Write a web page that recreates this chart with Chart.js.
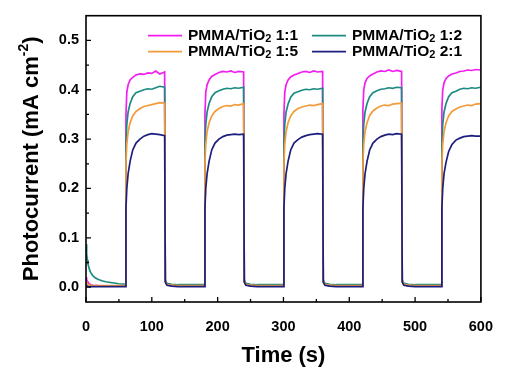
<!DOCTYPE html>
<html>
<head>
<meta charset="utf-8">
<script src="https://cdn.jsdelivr.net/npm/chart.js@4/dist/chart.umd.min.js"></script>
<style>
  html, body { margin: 0; padding: 0; background: #fff; }
  #wrap { width: 509px; height: 374px; }
</style>
</head>
<body>
<div id="wrap"><canvas id="photo-chart" width="509" height="374"></canvas></div>
<script>
// --- Data ---
const timeSec = [
    0, 1, 2, 3, 5, 7, 10, 14, 18, 24, 30, 40, 50,
    60, 60.7, 62, 64, 67, 71, 76, 82, 88, 94, 100, 106, 112, 119.5, 120.5, 123, 130, 140, 150, 160, 170,
    180, 180.7, 182, 184, 187, 191, 196, 202, 208, 214, 220, 226, 232, 239.5, 240.5, 243, 250, 260, 270, 280, 290,
    300, 300.7, 302, 304, 307, 311, 316, 322, 328, 334, 340, 346, 352, 359.5, 360.5, 363, 370, 380, 390, 400, 410,
    420, 420.7, 422, 424, 427, 431, 436, 442, 448, 454, 460, 466, 472, 479.5, 480.5, 483, 490, 500, 510, 520, 530,
    540, 540.7, 542, 544, 547, 551, 556, 562, 568, 574, 580, 586, 592, 599.5, 600
];

const pmma11 = [
    0.020, 0.015, 0.012, 0.010, 0.007, 0.005, 0.004, 0.003, 0.003, 0.002, 0.002, 0.002, 0.002,
    0.002, 0.35, 0.395, 0.41, 0.42, 0.425, 0.43, 0.432, 0.431, 0.434, 0.433, 0.438, 0.432, 0.436,
    0.012, 0.005, 0.003, 0.002, 0.002, 0.002, 0.002,
    0.002, 0.35, 0.395, 0.41, 0.42, 0.427, 0.431, 0.435, 0.437, 0.436, 0.438, 0.435, 0.437, 0.436,
    0.012, 0.005, 0.003, 0.002, 0.002, 0.002, 0.002,
    0.002, 0.35, 0.395, 0.41, 0.42, 0.426, 0.43, 0.433, 0.436, 0.437, 0.435, 0.438, 0.436, 0.437,
    0.012, 0.005, 0.003, 0.002, 0.002, 0.002, 0.002,
    0.002, 0.36, 0.40, 0.414, 0.423, 0.428, 0.432, 0.436, 0.438, 0.437, 0.440, 0.437, 0.439, 0.437,
    0.012, 0.005, 0.003, 0.002, 0.002, 0.002, 0.002,
    0.002, 0.36, 0.40, 0.414, 0.423, 0.428, 0.432, 0.434, 0.437, 0.438, 0.440, 0.439, 0.441, 0.440, 0.440
];

const pmma12 = [
    0.087, 0.068, 0.055, 0.047, 0.037, 0.030, 0.024, 0.019, 0.016, 0.013, 0.011, 0.009, 0.007,
    0.006, 0.29, 0.33, 0.355, 0.372, 0.386, 0.394, 0.397, 0.400, 0.402, 0.401, 0.404, 0.407, 0.405,
    0.015, 0.008, 0.006, 0.005, 0.005, 0.005, 0.005,
    0.005, 0.29, 0.33, 0.355, 0.372, 0.386, 0.394, 0.398, 0.401, 0.403, 0.402, 0.404, 0.403, 0.405,
    0.015, 0.008, 0.006, 0.005, 0.005, 0.005, 0.005,
    0.005, 0.29, 0.33, 0.355, 0.371, 0.385, 0.393, 0.396, 0.399, 0.401, 0.400, 0.402, 0.401, 0.403,
    0.015, 0.008, 0.006, 0.005, 0.005, 0.005, 0.005,
    0.005, 0.29, 0.33, 0.355, 0.372, 0.386, 0.394, 0.398, 0.401, 0.402, 0.404, 0.403, 0.405, 0.404,
    0.015, 0.008, 0.006, 0.005, 0.005, 0.005, 0.005,
    0.005, 0.29, 0.33, 0.355, 0.372, 0.386, 0.394, 0.397, 0.401, 0.403, 0.402, 0.404, 0.403, 0.405, 0.405
];

const pmma15 = [
    0.012, 0.009, 0.007, 0.006, 0.005, 0.004, 0.003, 0.003, 0.003, 0.003, 0.003, 0.003, 0.003,
    0.003, 0.25, 0.29, 0.315, 0.333, 0.347, 0.356, 0.362, 0.366, 0.368, 0.370, 0.372, 0.374, 0.373,
    0.012, 0.006, 0.004, 0.003, 0.003, 0.003, 0.003,
    0.003, 0.25, 0.29, 0.315, 0.333, 0.347, 0.356, 0.362, 0.366, 0.368, 0.367, 0.370, 0.369, 0.372,
    0.012, 0.006, 0.004, 0.003, 0.003, 0.003, 0.003,
    0.003, 0.25, 0.29, 0.315, 0.333, 0.347, 0.356, 0.362, 0.365, 0.367, 0.369, 0.368, 0.370, 0.372,
    0.012, 0.006, 0.004, 0.003, 0.003, 0.003, 0.003,
    0.003, 0.25, 0.29, 0.315, 0.333, 0.348, 0.357, 0.363, 0.367, 0.369, 0.368, 0.371, 0.372, 0.373,
    0.012, 0.006, 0.004, 0.003, 0.003, 0.003, 0.003,
    0.003, 0.25, 0.29, 0.315, 0.333, 0.347, 0.356, 0.361, 0.365, 0.367, 0.369, 0.368, 0.371, 0.372, 0.372
];

const pmma21 = [
    0.004, 0.003, 0.002, 0.002, 0.001, 0.001, 0.001, 0.001, 0.001, 0.001, 0.001, 0.001, 0.001,
    0.001, 0.16, 0.20, 0.23, 0.255, 0.278, 0.292, 0.300, 0.306, 0.309, 0.311, 0.310, 0.309, 0.307,
    0.010, 0.004, 0.002, 0.001, 0.001, 0.001, 0.001,
    0.001, 0.16, 0.20, 0.23, 0.255, 0.278, 0.292, 0.300, 0.305, 0.308, 0.309, 0.310, 0.309, 0.310,
    0.010, 0.004, 0.002, 0.001, 0.001, 0.001, 0.001,
    0.001, 0.16, 0.20, 0.23, 0.255, 0.278, 0.292, 0.299, 0.304, 0.307, 0.309, 0.310, 0.311, 0.310,
    0.010, 0.004, 0.002, 0.001, 0.001, 0.001, 0.001,
    0.001, 0.16, 0.20, 0.23, 0.255, 0.278, 0.292, 0.300, 0.305, 0.308, 0.310, 0.309, 0.311, 0.310,
    0.010, 0.004, 0.002, 0.001, 0.001, 0.001, 0.001,
    0.001, 0.16, 0.20, 0.23, 0.253, 0.275, 0.289, 0.298, 0.302, 0.305, 0.306, 0.307, 0.306, 0.306, 0.306
];

const seriesNames = ['PMMA/TiO|2| 1:1', 'PMMA/TiO|2| 1:2', 'PMMA/TiO|2| 1:5', 'PMMA/TiO|2| 2:1'];
const seriesColors = ['#f21ef0', '#1c8a80', '#f29b3c', '#1e1e7e'];

const xTicks = [0, 100, 200, 300, 400, 500, 600];
const xMinorTicks = [50, 150, 250, 350, 450, 550];
const yTicks = [0.0, 0.1, 0.2, 0.3, 0.4, 0.5];
const yMinorTicks = [0.05, 0.15, 0.25, 0.35, 0.45];

const xTitle = 'Time (s)';
const yTitle = 'Photocurrent (mA cm';
const yTitleSup = '-2';

const FONT = '"Liberation Sans", Arial, sans-serif';

// --- Plugins ---
// inward tick marks, frame and axis titles
const framePlugin = {
    id: 'frame',
    afterDatasetsDraw(chart) {
        const { ctx, chartArea: a, scales } = chart;
        const xs = scales.x, ys = scales.y;
        ctx.save();
        ctx.strokeStyle = '#000';
        ctx.lineWidth = 1.6;
        ctx.strokeRect(a.left, a.top, a.right - a.left, a.bottom - a.top);
        ctx.lineWidth = 1.3;
        ctx.beginPath();
        xTicks.forEach(v => { const p = xs.getPixelForValue(v); ctx.moveTo(p, a.bottom); ctx.lineTo(p, a.bottom - 5); });
        xMinorTicks.forEach(v => { const p = xs.getPixelForValue(v); ctx.moveTo(p, a.bottom); ctx.lineTo(p, a.bottom - 3); });
        yTicks.forEach(v => { const p = ys.getPixelForValue(v); ctx.moveTo(a.left, p); ctx.lineTo(a.left + 5, p); });
        yMinorTicks.forEach(v => { const p = ys.getPixelForValue(v); ctx.moveTo(a.left, p); ctx.lineTo(a.left + 3, p); });
        ctx.stroke();

        // axis titles
        ctx.fillStyle = '#000';
        ctx.font = 'bold 22px ' + FONT;
        ctx.textAlign = 'center';
        ctx.textBaseline = 'middle';
        ctx.fillText(xTitle, (a.left + a.right) / 2, 356);

        ctx.translate(32, (a.top + a.bottom) / 2);
        ctx.rotate(-Math.PI / 2);
        const wMain = ctx.measureText(yTitle).width;
        ctx.font = 'bold 14px ' + FONT;
        const wSup = ctx.measureText(yTitleSup).width;
        ctx.font = 'bold 22px ' + FONT;
        const wClose = ctx.measureText(')').width;
        const total = wMain + wSup + wClose;
        let x0 = -total / 2;
        ctx.textAlign = 'left';
        ctx.fillText(yTitle, x0, 0);
        ctx.font = 'bold 14px ' + FONT;
        ctx.fillText(yTitleSup, x0 + wMain, -8);
        ctx.font = 'bold 22px ' + FONT;
        ctx.fillText(')', x0 + wMain + wSup, 0);
        ctx.restore();
    }
};

// two-column legend inside the plot
const legendPlugin = {
    id: 'innerLegend',
    afterDraw(chart) {
        const { ctx, chartArea: a } = chart;
        const cols = [a.left + 62, a.left + 226];
        const rows = [a.top + 20, a.top + 36];
        ctx.save();
        ctx.textBaseline = 'middle';
        chart.data.datasets.forEach((ds, i) => {
            const x = cols[i % 2], y = rows[Math.floor(i / 2)];
            ctx.strokeStyle = ds.borderColor;
            ctx.lineWidth = 1.8;
            ctx.beginPath();
            ctx.moveTo(x, y);
            ctx.lineTo(x + 34, y);
            ctx.stroke();
            const parts = ds.label.split('|');
            let tx = x + 40;
            ctx.fillStyle = '#000';
            parts.forEach((part, k) => {
                if (k === 1) {
                    ctx.font = 'bold 11px ' + FONT;
                    ctx.fillText(part, tx, y + 3);
                } else {
                    ctx.font = 'bold 15.5px ' + FONT;
                    ctx.fillText(part, tx, y);
                }
                tx += ctx.measureText(part).width;
            });
        });
        ctx.restore();
    }
};

// --- Chart ---
const seriesData = [pmma11, pmma12, pmma15, pmma21];

const datasets = seriesData.map((vals, i) => ({
    label: seriesNames[i],
    data: timeSec.map((t, k) => ({ x: t, y: vals[k] })),
    borderColor: seriesColors[i],
    backgroundColor: seriesColors[i],
    borderWidth: 1.7,
    pointRadius: 0,
    tension: 0,
    order: 4 - i
}));

new Chart(document.getElementById('photo-chart').getContext('2d'), {
    type: 'line',
    data: { datasets },
    options: {
        responsive: false,
        animation: false,
        layout: { padding: { top: 7, right: 13, left: 0, bottom: 0 } },
        plugins: {
            legend: { display: false },
            tooltip: { enabled: false }
        },
        scales: {
            x: {
                type: 'linear',
                min: 0,
                max: 600,
                grid: { display: false, drawTicks: false },
                border: { display: false },
                afterBuildTicks: s => { s.ticks = xTicks.map(v => ({ value: v })); },
                afterFit: s => { s.height = 72; },
                ticks: {
                    padding: 16,
                    color: '#000',
                    maxRotation: 0,
                    font: { family: FONT, size: 14.5, weight: 'bold' }
                }
            },
            y: {
                min: -0.03,
                max: 0.55,
                grid: { display: false, drawTicks: false },
                border: { display: false },
                afterBuildTicks: s => { s.ticks = yTicks.map(v => ({ value: v })); },
                afterFit: s => { s.width = 86; },
                ticks: {
                    padding: 7,
                    color: '#000',
                    font: { family: FONT, size: 14.5, weight: 'bold' },
                    callback: v => v.toFixed(1)
                }
            }
        }
    },
    plugins: [framePlugin, legendPlugin]
});
</script>
</body>
</html>
